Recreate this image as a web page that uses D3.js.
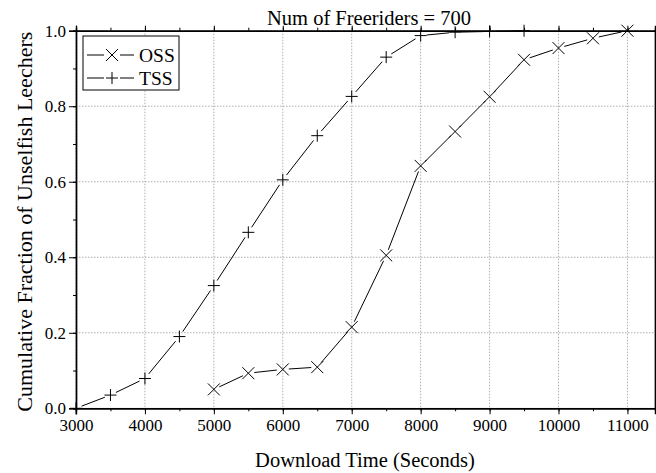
<!DOCTYPE html>
<html>
<head>
<meta charset="utf-8">
<script src="https://cdn.jsdelivr.net/npm/d3@7"></script>
<style>
  html, body { margin: 0; padding: 0; background: #fff; }
  svg { display: block; }
</style>
</head>
<body>
<svg id="chart" width="656" height="473"></svg>
<script>
// Download time samples (seconds) and cumulative fractions per scheme
const timesOSS = [5000, 5500, 6000, 6500, 7000, 7500, 8000, 8500, 9000, 9500, 10000, 10500, 11000];
const valuesOSS = [0.05, 0.093, 0.103, 0.109, 0.215, 0.405, 0.642, 0.733, 0.825, 0.923, 0.954, 0.98, 1.0];
const timesTSS = [3000, 3500, 4000, 4500, 5000, 5500, 6000, 6500, 7000, 7500, 8000, 8500, 9000, 9500];
const valuesTSS = [0.0, 0.035, 0.079, 0.19, 0.325, 0.466, 0.605, 0.722, 0.826, 0.93, 0.987, 0.996, 0.998, 1.0];
const xTicks = [3000, 4000, 5000, 6000, 7000, 8000, 9000, 10000, 11000];
const yTicks = [0.0, 0.2, 0.4, 0.6, 0.8, 1.0];
const seriesNames = ["OSS", "TSS"];
const titleText = "Num of Freeriders = 700";
const xTitle = "Download Time (Seconds)";
const yTitle = "Cumulative Fraction of Unselfish Leechers";

const FONT = "'Liberation Serif', 'Times New Roman', 'DejaVu Serif', serif";
const svg = d3.select("#chart").attr("font-family", FONT);
const plotL = 76, plotR = 655, plotT = 30.7, plotB = 408.3;

const x = d3.scaleLinear().domain([3000, 11400]).range([plotL, plotR]);
const y = d3.scaleLinear().domain([0, 1]).range([plotB, plotT]);

// grid
const grid = svg.append("g").attr("stroke", "#9a9a9a").attr("stroke-width", 0.8)
  .attr("stroke-dasharray", "1.5,1.5");
xTicks.forEach(t => grid.append("line")
  .attr("x1", x(t)).attr("x2", x(t)).attr("y1", plotT).attr("y2", plotB));
yTicks.forEach(t => grid.append("line")
  .attr("x1", plotL).attr("x2", plotR).attr("y1", y(t)).attr("y2", y(t)));

// axes: major ticks with labels, plus half-step minor ticks, mirrored on all sides
const minorX = d3.range(3000, 11401, 500);
const minorY = d3.range(0, 1.0001, 0.1);
const fmtY = d3.format(".1f");

const axB = svg.append("g").attr("transform", `translate(0,${plotB})`)
  .call(d3.axisBottom(x).tickValues(xTicks).tickFormat(d3.format("d")).tickSize(6).tickPadding(5));
const axBm = svg.append("g").attr("transform", `translate(0,${plotB})`)
  .call(d3.axisBottom(x).tickValues(minorX).tickFormat("").tickSize(3));
const axT = svg.append("g").attr("transform", `translate(0,${plotT})`)
  .call(d3.axisTop(x).tickValues(xTicks).tickFormat("").tickSize(5));
const axTm = svg.append("g").attr("transform", `translate(0,${plotT})`)
  .call(d3.axisTop(x).tickValues(minorX).tickFormat("").tickSize(3));
const axL = svg.append("g").attr("transform", `translate(${plotL},0)`)
  .call(d3.axisLeft(y).tickValues(yTicks).tickFormat(fmtY).tickSize(7).tickPadding(3));
const axLm = svg.append("g").attr("transform", `translate(${plotL},0)`)
  .call(d3.axisLeft(y).tickValues(minorY).tickFormat("").tickSize(3));
const axR = svg.append("g").attr("transform", `translate(${plotR},0)`)
  .call(d3.axisRight(y).tickValues(yTicks).tickFormat("").tickSize(5));
const axRm = svg.append("g").attr("transform", `translate(${plotR},0)`)
  .call(d3.axisRight(y).tickValues(minorY).tickFormat("").tickSize(3));

[axB, axBm, axT, axTm, axL, axLm, axR, axRm].forEach(a => {
  a.attr("font-family", FONT).attr("font-size", 17);
  a.selectAll(".domain").attr("stroke", "#000").attr("stroke-width", 1.4);
  a.selectAll(".tick line").attr("stroke", "#000").attr("stroke-width", 1);
  a.selectAll("text").attr("fill", "#000");
});

// series: line segments stop short of each marker
function drawSeries(times, vals, marker) {
  const pts = times.map((t, i) => [x(t), y(vals[i])]);
  const gap = 6;
  const g = svg.append("g");
  for (let i = 0; i < pts.length - 1; i++) {
    const [x0, y0] = pts[i], [x1, y1] = pts[i + 1];
    const len = Math.hypot(x1 - x0, y1 - y0);
    if (len <= 2 * gap) continue;
    const ux = (x1 - x0) / len, uy = (y1 - y0) / len;
    g.append("line")
      .attr("x1", x0 + ux * gap).attr("y1", y0 + uy * gap)
      .attr("x2", x1 - ux * gap).attr("y2", y1 - uy * gap)
      .attr("stroke", "#000").attr("stroke-width", 1);
  }
  pts.forEach(p => drawMarker(g, p[0], p[1], marker));
}

function drawMarker(g, cx, cy, marker) {
  const r = 6;
  const p = marker === "x"
    ? `M${cx - r},${cy - r}L${cx + r},${cy + r}M${cx - r},${cy + r}L${cx + r},${cy - r}`
    : `M${cx - r},${cy}L${cx + r},${cy}M${cx},${cy - r}L${cx},${cy + r}`;
  g.append("path").attr("d", p).attr("stroke", "#000").attr("stroke-width", 1).attr("fill", "none");
}

drawSeries(timesTSS, valuesTSS, "+");
drawSeries(timesOSS, valuesOSS, "x");

// legend
const leg = svg.append("g");
leg.append("rect").attr("x", 83).attr("y", 36).attr("width", 96).attr("height", 54)
  .attr("fill", "#fff").attr("stroke", "#000").attr("stroke-width", 1);
const legRows = [{ name: seriesNames[0], m: "x", yy: 55 }, { name: seriesNames[1], m: "+", yy: 78 }];
legRows.forEach(r => {
  leg.append("line").attr("x1", 87).attr("x2", 104).attr("y1", r.yy).attr("y2", r.yy).attr("stroke", "#000");
  leg.append("line").attr("x1", 120).attr("x2", 134).attr("y1", r.yy).attr("y2", r.yy).attr("stroke", "#000");
  drawMarker(leg, 112, r.yy, r.m);
  leg.append("text").attr("x", 139).attr("y", r.yy + 6.5).text(r.name)
    .attr("font-size", 19.5).attr("fill", "#000");
});

// titles
svg.append("text").attr("x", 369).attr("y", 25).attr("text-anchor", "middle")
  .attr("font-size", 20.5).text(titleText);
svg.append("text").attr("x", 365).attr("y", 467).attr("text-anchor", "middle")
  .attr("font-size", 20.5).text(xTitle);
svg.append("text").attr("transform", `translate(32,221.7) rotate(-90)`)
  .attr("text-anchor", "middle").attr("font-size", 22).text(yTitle);
</script>
</body>
</html>
